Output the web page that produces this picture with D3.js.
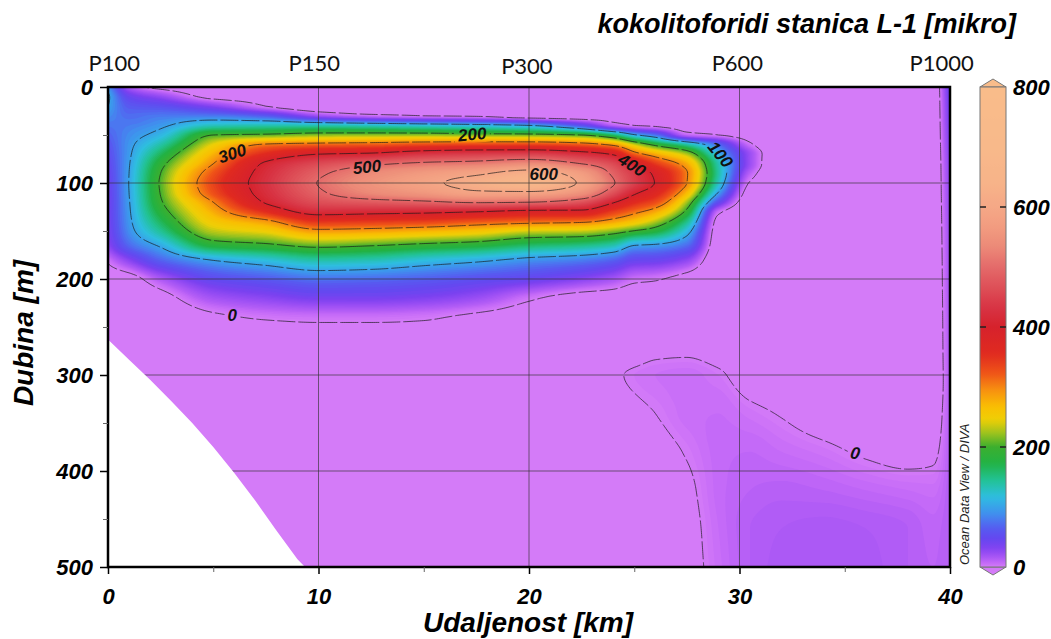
<!DOCTYPE html>
<html><head><meta charset="utf-8">
<script src="https://cdn.jsdelivr.net/npm/d3@7"></script>
<style>body{margin:0;background:#fff}svg{display:block}</style>
</head><body>
<svg id="chart" width="1051" height="639"></svg>
<script>
// ---------- data ----------
const distances = [0, 1, 2.5, 5, 7.5, 10, 12.5, 15, 17.5, 20, 22.5, 24, 25, 26, 27.5, 29, 30.5, 32, 34, 36, 38, 39.2, 40];
const depths = [0,10,20,30,40,50,60,70,80,90,100,110,120,130,140,150,165,180,200,220,240,270,300,340,380,420,460,500];
// one depth profile per distance (values at the depths above)
const profiles = [
  [90,105,100,88,76,66,58,52,47,43,40,39,38,38,37,35,27,4,-12,-18,-20,-20,-20,-20,-20,-20,-20,-20],
  [15,45,62,72,80,87,92,95,98,100,101,100,98,96,93,88,70,30,-8,-16,-20,-20,-20,-20,-20,-20,-20,-20],
  [-8,25,55,78,94,112,138,165,187,200,205,202,195,182,165,145,105,68,15,-8,-16,-20,-20,-20,-20,-20,-20,-20],
  [-15,-6,30,78,130,200,245,275,300,325,336,328,300,278,256,232,180,102,50,18,-4,-16,-20,-20,-20,-20,-20,-20],
  [-18,-10,0,62,135,207,305,360,408,422,428,422,405,355,290,250,192,120,62,28,2,-14,-20,-20,-20,-20,-20,-20],
  [-20,-18,-15,20,135,218,315,400,460,490,502,492,465,420,350,290,210,140,75,36,4,-12,-20,-20,-20,-20,-20,-20],
  [-20,-18,-16,5,128,220,320,410,490,535,550,535,480,415,345,285,202,135,72,36,4,-12,-20,-20,-20,-20,-20,-20],
  [-20,-18,-12,0,120,220,330,435,510,565,585,560,490,410,340,275,190,120,65,32,2,-10,-20,-20,-20,-20,-20,-20],
  [-20,-18,-13,-3,112,215,335,445,520,590,625,590,505,400,325,262,180,108,55,22,-4,-14,-20,-20,-20,-20,-20,-20],
  [-20,-18,-15,-12,100,212,335,450,540,625,662,590,500,385,315,240,160,92,45,3,-10,-16,-20,-20,-20,-20,-20,-20],
  [-20,-18,-16,-14,55,200,320,425,500,570,590,550,470,385,308,236,150,82,30,-8,-16,-20,-20,-20,-20,-20,-20,-20],
  [-20,-18,-16,-11,10,160,290,395,460,490,505,470,405,340,285,218,135,68,18,-10,-18,-18,-3,-12,-18,-20,-20,-20],
  [-20,-18,-16,-12,0,105,235,320,400,440,446,410,360,310,262,198,100,48,5,-12,-18,-12,2,-4,-10,-14,-16,-18],
  [-20,-18,-16,-13,-4,75,190,280,345,390,398,370,330,280,230,180,95,45,2,-12,-18,-6,4,0,-6,-10,-12,-14],
  [-20,-18,-16,-14,-10,8,140,228,280,303,300,270,225,190,150,115,72,28,-8,-16,-18,-5,5,5,1,-3,-5,-6],
  [-20,-18,-16,-14,-10,0,70,108,135,140,128,98,52,5,-8,-12,-15,-18,-20,-20,-18,-10,2,6,7,7,6,5],
  [-20,-18,-16,-15,-13,-10,4,22,22,10,-2,-10,-15,-18,-20,-20,-20,-20,-20,-20,-20,-16,-8,3,8,10,12,12],
  [-20,-20,-20,-20,-20,-20,-20,-20,-20,-20,-20,-20,-20,-20,-20,-20,-20,-20,-20,-20,-20,-18,-12,-1,6,11,14,15],
  [-20,-20,-20,-20,-20,-20,-20,-20,-20,-20,-20,-20,-20,-20,-20,-20,-20,-20,-20,-20,-20,-20,-16,-8,3,10,15,16],
  [-20,-20,-20,-20,-20,-20,-20,-20,-20,-20,-20,-20,-20,-20,-20,-20,-20,-20,-20,-20,-20,-20,-18,-12,-2,8,14,15],
  [-20,-20,-20,-20,-20,-20,-20,-20,-20,-20,-20,-20,-20,-20,-20,-20,-20,-20,-20,-20,-20,-20,-18,-12,-5,6,12,12],
  [-15,-15,-15,-15,-15,-15,-15,-15,-15,-15,-15,-15,-15,-15,-15,-15,-15,-15,-15,-15,-15,-15,-15,-10,-3,5,9,10],
  [45,42,40,38,36,34,32,30,28,27,26,25,24,23,22,21,20,19,18,17,16,15,14,13,12,12,12,12]
];
// sea floor (white, no data)
const bottomKm = [0, 1, 2, 3, 4, 5, 6, 7, 8, 9, 9.36];
const bottomDepth = [263, 284, 305, 327, 350, 375, 402, 431, 462, 492, 500];

const xTicks = [0, 10, 20, 30, 40];
const xMinorTicks = [5, 15, 25, 35];
const yTicks = [0, 100, 200, 300, 400, 500];
const yMinorTicks = [50, 150, 250, 350, 450];
const colorbarTicks = [0, 200, 400, 600, 800];
const colorbarInnerTicks = [200, 400, 600];
const contourLevels = [0, 100, 200, 300, 400, 500, 600];
const stationNames = ['P100', 'P150', 'P300', 'P600', 'P1000'];
const stationKm = [0.3, 9.8, 19.9, 29.9, 39.6];
const labelText = ['300', '500', '200', '600', '400', '100', '0', '0'];
const labelKm = [5.9, 12.3, 17.3, 20.7, 24.9, 29.1, 5.9, 35.5];
const labelDepth = [69, 83, 49, 90, 81, 70, 237, 381];
const labelAngle = [-18, -6, -5, 0, 32, 50, 0, 10];

const colorDomain = [0, 6, 12, 22, 34, 48, 62, 76, 90, 117, 145, 173, 200, 223, 245, 267, 295, 323, 356, 400, 434, 467, 500, 534, 567, 600, 640, 700, 800];
const colorRange = ['#d47bf8','#c76cf8','#b45ef6','#9a4ef4','#7c42f0','#6448f0','#5858f0','#4c74f0','#3f92ee','#2ebee0','#22c294','#22b244','#3caf2e','#9cc21e','#eecf06','#f9bf02','#f79010','#ef5418','#e02a20','#d6222c','#d83545','#de5058','#e46a6a','#ec8a78','#f29c80','#f5a886','#f7b389','#f8b98a','#f9bc8a'];

// ---------- setup ----------
const W = 1051, H = 639;
const svg = d3.select('#chart');
const x = d3.scaleLinear().domain([0, 40]).range([108, 950]);
const y = d3.scaleLinear().domain([0, 500]).range([87, 567]);
const cbY = d3.scaleLinear().domain([0, 800]).range([567, 87]);
const color = d3.scaleLinear().domain(colorDomain).range(colorRange).interpolate(d3.interpolateRgb).clamp(true);
const boldItalic = "'Liberation Sans', Arial, sans-serif";

// monotone cubic (PCHIP) for rendering a smooth field from the read grid
function pchip(xs, ys) {
  const n = xs.length, h = [], d = [], m = new Array(n);
  for (let i = 0; i < n - 1; i++) { h[i] = xs[i+1] - xs[i]; d[i] = (ys[i+1] - ys[i]) / h[i]; }
  m[0] = d[0]; m[n-1] = d[n-2];
  for (let i = 1; i < n - 1; i++) {
    if (d[i-1] * d[i] <= 0) m[i] = 0;
    else { const w1 = 2*h[i] + h[i-1], w2 = h[i] + 2*h[i-1]; m[i] = (w1 + w2) / (w1 / d[i-1] + w2 / d[i]); }
  }
  return function(v) {
    let i = d3.bisectRight(xs, v) - 1;
    i = Math.max(0, Math.min(n - 2, i));
    const t = (v - xs[i]) / h[i], t2 = t*t, t3 = t2*t;
    return (2*t3 - 3*t2 + 1)*ys[i] + (t3 - 2*t2 + t)*h[i]*m[i] + (-2*t3 + 3*t2)*ys[i+1] + (t3 - t2)*h[i]*m[i+1];
  };
}
const NX = 401, NY = 251;
const kmStep = 40 / (NX - 1), mStep = 500 / (NY - 1);
const colFine = profiles.map(p => { const f = pchip(depths, p); return d3.range(NY).map(k => f(k * mStep)); });
const grid = new Float64Array(NX * NY);
for (let k = 0; k < NY; k++) {
  const f = pchip(distances, colFine.map(c => c[k]));
  for (let j = 0; j < NX; j++) grid[k * NX + j] = f(j * kmStep);
}
const proj = d3.geoTransform({ point(u, v) {
  const km = Math.max(0, Math.min(40, (u - 0.5) * kmStep));
  const m = Math.max(0, Math.min(500, (v - 0.5) * mStep));
  this.stream.point(x(km), y(m));
}});
const path = d3.geoPath(proj);

const defs = svg.append('defs');
defs.append('clipPath').attr('id', 'plotClip').append('rect')
  .attr('x', x(0)).attr('y', y(0)).attr('width', x(40) - x(0)).attr('height', y(500) - y(0));

// ---------- field ----------
const field = svg.append('g').attr('clip-path', 'url(#plotClip)');
field.append('rect').attr('x', x(0)).attr('y', y(0)).attr('width', x(40) - x(0)).attr('height', y(500) - y(0)).attr('fill', color(0));
const fillThresholds = d3.range(0, 40, 2).concat(d3.range(40, 805, 5));
const bands = d3.contours().size([NX, NY]).thresholds(fillThresholds)(grid);
bands.forEach((c, i) => {
  const next = i < fillThresholds.length - 1 ? fillThresholds[i + 1] : fillThresholds[i] + 5;
  field.append('path').attr('d', path(c)).attr('fill', color((fillThresholds[i] + next) / 2)).attr('stroke', 'none');
});

// gridlines
const gridG = field.append('g').attr('stroke', '#333').attr('stroke-opacity', 0.65).attr('stroke-width', 1);
xTicks.slice(1, -1).forEach(t => gridG.append('line').attr('x1', x(t)).attr('x2', x(t)).attr('y1', y(0)).attr('y2', y(500)));
yTicks.slice(1, -1).forEach(t => gridG.append('line').attr('x1', x(0)).attr('x2', x(40)).attr('y1', y(t)).attr('y2', y(t)));

// contour lines with gaps for labels
const mask = defs.append('mask').attr('id', 'lblMask').attr('maskUnits', 'userSpaceOnUse')
  .attr('x', 0).attr('y', 0).attr('width', W).attr('height', H);
mask.append('rect').attr('x', 0).attr('y', 0).attr('width', W).attr('height', H).attr('fill', 'white');
const lines = d3.contours().size([NX, NY]).thresholds(contourLevels)(grid);
const lineG = field.append('g').attr('mask', 'url(#lblMask)');
lines.forEach(c => lineG.append('path').attr('d', path(c)).attr('fill', 'none')
  .attr('stroke', '#1a1a1a').attr('stroke-width', 0.9).attr('stroke-opacity', 0.75).attr('stroke-dasharray', '18 3'));

// sea floor
const floorPts = bottomKm.map((k, i) => [x(k), y(bottomDepth[i])]).concat([[x(0), y(500)]]);
field.append('path').attr('d', d3.line()(floorPts) + 'Z').attr('fill', '#ffffff');

// contour labels
const lblG = field.append('g');
labelText.forEach((t, i) => {
  const tr = `translate(${x(labelKm[i])},${y(labelDepth[i])}) rotate(${labelAngle[i]})`;
  const tx = lblG.append('text').attr('transform', tr).attr('text-anchor', 'middle').attr('dy', '0.36em')
    .attr('font-family', boldItalic).attr('font-weight', 'bold').attr('font-style', 'italic')
    .attr('font-size', 17).attr('fill', '#111').text(t);
  const bb = tx.node().getBBox();
  mask.append('rect').attr('transform', tr).attr('x', bb.x - 3).attr('y', bb.y + 1).attr('width', bb.width + 6).attr('height', bb.height - 2).attr('fill', 'black');
});

// frame
svg.append('rect').attr('x', x(0)).attr('y', y(0)).attr('width', x(40) - x(0)).attr('height', y(500) - y(0))
  .attr('fill', 'none').attr('stroke', '#000').attr('stroke-width', 2.5);

// ---------- axes ----------
function styleAxis(g) {
  g.select('.domain').remove();
  g.selectAll('.tick line').attr('stroke', '#000').attr('stroke-width', 1.5);
  g.selectAll('.tick text').attr('font-family', boldItalic).attr('font-weight', 'bold').attr('font-style', 'italic')
    .attr('font-size', 22).attr('fill', '#000');
}
svg.append('g').attr('transform', `translate(${x(0)},0)`)
  .call(d3.axisLeft(y).tickValues(yMinorTicks).tickSize(5).tickFormat(''))
  .call(g => { g.select('.domain').remove(); g.selectAll('.tick line').attr('stroke', '#666').attr('stroke-width', 1); });
svg.append('g').attr('transform', `translate(${x(0)},0)`)
  .call(d3.axisLeft(y).tickValues(yTicks).tickSize(8).tickPadding(7).tickFormat(d3.format('d')))
  .call(styleAxis);
svg.append('g').attr('transform', `translate(0,${y(500)})`)
  .call(d3.axisBottom(x).tickValues(xMinorTicks).tickSize(5).tickFormat(''))
  .call(g => { g.select('.domain').remove(); g.selectAll('.tick line').attr('stroke', '#666').attr('stroke-width', 1); });
svg.append('g').attr('transform', `translate(0,${y(500)})`)
  .call(d3.axisBottom(x).tickValues(xTicks).tickSize(7).tickPadding(14).tickFormat(d3.format('d')))
  .call(styleAxis);

// axis titles
svg.append('text').attr('transform', `translate(33,333) rotate(-90)`).attr('text-anchor', 'middle')
  .attr('font-family', boldItalic).attr('font-weight', 'bold').attr('font-style', 'italic').attr('font-size', 28).text('Dubina [m]');
svg.append('text').attr('x', 528).attr('y', 632).attr('text-anchor', 'middle')
  .attr('font-family', boldItalic).attr('font-weight', 'bold').attr('font-style', 'italic').attr('font-size', 28).text('Udaljenost [km]');
svg.append('text').attr('x', 1016).attr('y', 33).attr('text-anchor', 'end')
  .attr('font-family', boldItalic).attr('font-weight', 'bold').attr('font-style', 'italic').attr('font-size', 27).text('kokolitoforidi stanica L-1 [mikro]');

// stations
stationNames.forEach((s, i) => svg.append('text').attr('x', x(stationKm[i])).attr('y', i === 2 ? 74 : 71).attr('text-anchor', 'middle')
  .attr('font-family', "Lato, 'Open Sans', sans-serif").attr('font-size', 22).attr('fill', '#111').text(s));

// credit
svg.append('text').attr('transform', 'translate(969,565) rotate(-90)').attr('text-anchor', 'start')
  .attr('font-family', boldItalic).attr('font-style', 'italic').attr('font-size', 13).attr('fill', '#222').text('Ocean Data View / DIVA');

// ---------- colorbar ----------
const cbX0 = 980, cbX1 = 1006, cbMid = (cbX0 + cbX1) / 2;
const grad = defs.append('linearGradient').attr('id', 'cbGrad').attr('x1', 0).attr('y1', 1).attr('x2', 0).attr('y2', 0);
d3.range(0, 101).forEach(i => grad.append('stop').attr('offset', i / 100).attr('stop-color', color(800 * i / 100)));
svg.append('path').attr('d', `M${cbX0},${cbY(800)}L${cbMid},${cbY(800) - 8}L${cbX1},${cbY(800)}Z`).attr('fill', color(800)).attr('stroke', '#777').attr('stroke-width', 1);
svg.append('path').attr('d', `M${cbX0},${cbY(0)}L${cbMid},${cbY(0) + 8}L${cbX1},${cbY(0)}Z`).attr('fill', color(0)).attr('stroke', '#777').attr('stroke-width', 1);
svg.append('rect').attr('x', cbX0).attr('y', cbY(800)).attr('width', cbX1 - cbX0).attr('height', cbY(0) - cbY(800))
  .attr('fill', 'url(#cbGrad)').attr('stroke', '#777').attr('stroke-width', 1);
colorbarInnerTicks.forEach(t => {
  svg.append('line').attr('x1', cbX0).attr('x2', cbX0 + 6).attr('y1', cbY(t)).attr('y2', cbY(t)).attr('stroke', '#222').attr('stroke-width', 1.5);
  svg.append('line').attr('x1', cbX1 - 6).attr('x2', cbX1).attr('y1', cbY(t)).attr('y2', cbY(t)).attr('stroke', '#222').attr('stroke-width', 1.5);
});
colorbarTicks.forEach(t => svg.append('text').attr('x', 1013).attr('y', cbY(t)).attr('dy', '0.36em')
  .attr('font-family', boldItalic).attr('font-weight', 'bold').attr('font-style', 'italic').attr('font-size', 22).text(t));
</script>
</body></html>
